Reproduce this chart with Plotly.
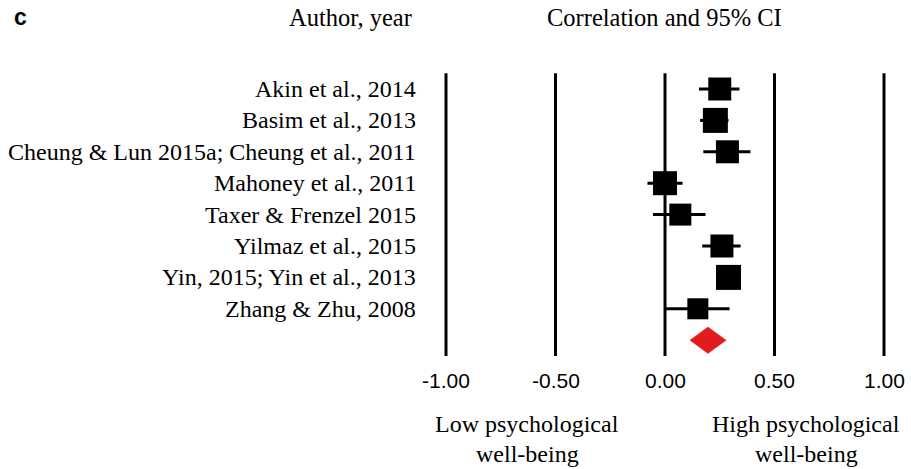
import plotly.graph_objects as go

# Studies, point estimates and 95% confidence limits
studies = [
    "Akin et al., 2014",
    "Basim et al., 2013",
    "Cheung & Lun 2015a; Cheung et al., 2011",
    "Mahoney et al., 2011",
    "Taxer & Frenzel 2015",
    "Yilmaz et al., 2015",
    "Yin, 2015; Yin et al., 2013",
    "Zhang & Zhu, 2008",
]
r_values = [0.25, 0.23, 0.285, 0.0, 0.07, 0.26, 0.29, 0.15]
ci_lower = [0.155, 0.16, 0.175, -0.08, -0.055, 0.17, 0.25, 0.005]
ci_upper = [0.34, 0.29, 0.39, 0.08, 0.185, 0.345, 0.33, 0.295]
study_weights = [23, 25, 23, 24, 22, 23, 25, 21]

# Pooled estimate
pooled_r = 0.196
pooled_lower = 0.114
pooled_upper = 0.279

tick_values = [-1.0, -0.5, 0.0, 0.5, 1.0]
tick_labels = ["-1.00", "-0.50", "0.00", "0.50", "1.00"]

# Direction captions under the axis (two lines each)
direction_labels = [
    ("Low psychological", "well-being"),
    ("High psychological", "well-being"),
]
direction_x_px = [527, 806]

rows = list(range(len(studies)))
pooled_row = len(studies)

W, H = 911, 469
px_per_x = 219.0
x0 = -665.0 / px_per_x
x1 = x0 + W / px_per_x
px_per_row = 31.4
y_top = -89.0 / px_per_row
y_bot = y_top + H / px_per_row

serif = "Liberation Serif"
sans = "Liberation Sans"

fig = go.Figure()

# Reference lines at each tick
for tv in tick_values:
    fig.add_shape(type="line", x0=tv, x1=tv, y0=-0.5, y1=pooled_row + 0.5,
                  xref="x", yref="y", line=dict(color="black", width=3), layer="below")

# Study estimates with confidence intervals
fig.add_trace(go.Scatter(
    x=r_values, y=rows, mode="markers",
    marker=dict(symbol="square", size=study_weights, color="black",
                opacity=1, line=dict(width=0)),
    error_x=dict(type="data", symmetric=False,
                 array=[u - r for u, r in zip(ci_upper, r_values)],
                 arrayminus=[r - l for l, r in zip(ci_lower, r_values)],
                 color="black", thickness=3, width=0),
    showlegend=False, hoverinfo="skip",
))

# Pooled diamond
half_h = 0.42
fig.add_trace(go.Scatter(
    x=[pooled_lower, pooled_r, pooled_upper, pooled_r, pooled_lower],
    y=[pooled_row, pooled_row - half_h, pooled_row, pooled_row + half_h, pooled_row],
    mode="lines", fill="toself", fillcolor="#e21c1c",
    line=dict(color="#e21c1c", width=0.5),
    showlegend=False, hoverinfo="skip",
))

annotations = []
# Study labels
for s, r in zip(studies, rows):
    annotations.append(dict(x=418 / W, xref="paper", y=r, yref="y", text=s,
                            xanchor="right", yanchor="middle", showarrow=False,
                            font=dict(family=serif, size=24, color="black")))
# Tick labels
for tv, tl in zip(tick_values, tick_labels):
    annotations.append(dict(x=tv, xref="x", y=1 - 380 / H, yref="paper", text=tl,
                            xanchor="center", yanchor="middle", showarrow=False,
                            font=dict(family=sans, size=21, color="black")))
# Direction captions
for (line1, line2), xp in zip(direction_labels, direction_x_px):
    for txt, yp in ((line1, 424), (line2, 454)):
        annotations.append(dict(x=xp / W, y=1 - yp / H, xref="paper", yref="paper",
                                text=txt, xanchor="center", yanchor="middle",
                                showarrow=False,
                                font=dict(family=serif, size=24, color="black")))
# Headers
annotations += [
    dict(x=12 / W, y=1 - 17 / H, xref="paper", yref="paper", text="<b>c</b>",
         xanchor="left", yanchor="middle", showarrow=False,
         font=dict(family=sans, size=23, color="black")),
    dict(x=350 / W, y=1 - 17 / H, xref="paper", yref="paper", text="Author, year",
         xanchor="center", yanchor="middle", showarrow=False,
         font=dict(family=serif, size=24.5, color="black")),
    dict(x=664 / W, y=1 - 17 / H, xref="paper", yref="paper", text="Correlation and 95% CI",
         xanchor="center", yanchor="middle", showarrow=False,
         font=dict(family=serif, size=24.5, color="black")),
]

fig.update_layout(
    width=W, height=H,
    margin=dict(l=0, r=0, t=0, b=0),
    paper_bgcolor="white", plot_bgcolor="white",
    xaxis=dict(range=[x0, x1], visible=False, fixedrange=True),
    yaxis=dict(range=[y_bot, y_top], visible=False, fixedrange=True),
    annotations=annotations,
    showlegend=False,
)

fig.write_html("out.html")
